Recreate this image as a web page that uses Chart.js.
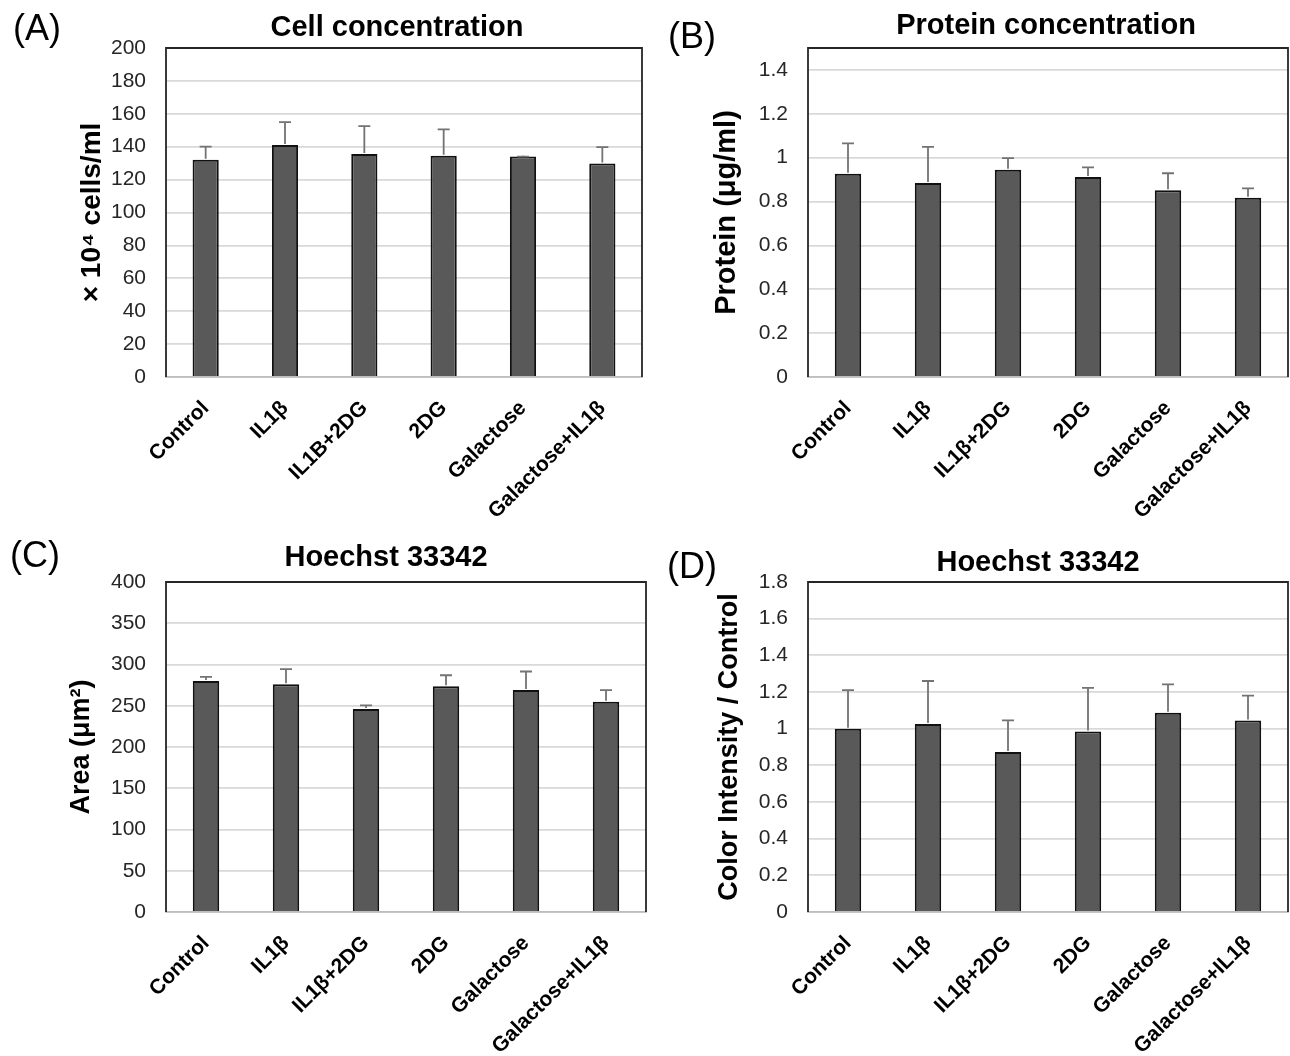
<!DOCTYPE html>
<html><head><meta charset="utf-8">
<script src="https://cdn.jsdelivr.net/npm/chart.js@4.4.1/dist/chart.umd.min.js"></script>
<style>
html,body{margin:0;padding:0;background:#fff;}
#wrap{position:relative;width:1290px;height:1056px;overflow:hidden;background:#fff;}
.p{position:absolute;}
</style></head><body>
<div id="wrap">
  <div class="p" style="left:0px;top:0px;width:650px;height:530px"><canvas id="cA"></canvas></div>
  <div class="p" style="left:650px;top:0px;width:640px;height:530px"><canvas id="cB"></canvas></div>
  <div class="p" style="left:0px;top:530px;width:650px;height:526px"><canvas id="cC"></canvas></div>
  <div class="p" style="left:650px;top:530px;width:640px;height:526px"><canvas id="cD"></canvas></div>
</div>
<script>
// ---- data ----
const categoriesA = ["Control", "IL1β", "IL1B+2DG", "2DG", "Galactose", "Galactose+IL1β"];
const categoriesBCD = ["Control", "IL1β", "IL1β+2DG", "2DG", "Galactose", "Galactose+IL1β"];

const cellConc    = [132, 141, 135.5, 134.5, 134, 129.8];
const cellConcErr = [8, 14, 17, 16, 0, 10];

const protein    = [0.927, 0.885, 0.945, 0.912, 0.852, 0.817];
const proteinErr = [0.138, 0.164, 0.053, 0.044, 0.077, 0.043];

const area    = [280, 276, 246, 273.5, 269, 255];
const areaErr = [5, 18.5, 4.5, 13.5, 22.5, 14];

const intensity    = [1.0, 1.025, 0.873, 0.985, 1.087, 1.045];
const intensityErr = [0.21, 0.235, 0.172, 0.237, 0.155, 0.135];

const ticksA = [0, 20, 40, 60, 80, 100, 120, 140, 160, 180, 200];
const ticksB = [0, 0.2, 0.4, 0.6, 0.8, 1, 1.2, 1.4];
const ticksC = [0, 50, 100, 150, 200, 250, 300, 350, 400];
const ticksD = [0, 0.2, 0.4, 0.6, 0.8, 1, 1.2, 1.4, 1.6, 1.8];

// ---- plugins ----
const errorBars = {
  id: 'errorBars',
  afterDatasetsDraw(chart, args, opts) {
    const ctx = chart.ctx, ys = chart.scales.y;
    const ds = chart.data.datasets[0];
    const meta = chart.getDatasetMeta(0);
    ctx.save();
    ctx.strokeStyle = opts.color; ctx.lineWidth = opts.width;
    meta.data.forEach((bar, i) => {
      const v = ds.data[i], e = ds.errors[i];
      const y0 = ys.getPixelForValue(v), y1 = ys.getPixelForValue(v + e);
      ctx.beginPath();
      ctx.moveTo(bar.x, y0 - 1); ctx.lineTo(bar.x, y1);
      ctx.moveTo(bar.x - opts.cap, y1); ctx.lineTo(bar.x + opts.cap, y1);
      ctx.stroke();
    });
    ctx.restore();
  }
};
const frame = {
  id: 'frame',
  afterDraw(chart, args, opts) {
    const {left, right, top, bottom} = chart.chartArea;
    const ctx = chart.ctx;
    ctx.save();
    ctx.strokeStyle = opts.color; ctx.lineWidth = opts.width;
    ctx.beginPath();
    ctx.moveTo(left, bottom); ctx.lineTo(left, top); ctx.lineTo(right, top); ctx.lineTo(right, bottom);
    ctx.stroke();
    ctx.restore();
  }
};
const panelText = {
  id: 'panelText',
  afterDraw(chart, args, opts) {
    const ctx = chart.ctx;
    ctx.save();
    opts.items.forEach(it => {
      ctx.font = it.font; ctx.fillStyle = it.color || '#000';
      ctx.textAlign = it.align || 'center'; ctx.textBaseline = 'middle';
      ctx.fillText(it.text, it.x, it.y);
    });
    ctx.restore();
  }
};

const FONT = "'Liberation Sans', Arial, sans-serif";

function makeChart(id, cfg) {
  return new Chart(document.getElementById(id), {
    type: 'bar',
    data: {
      labels: cfg.labels,
      datasets: [{
        data: cfg.values,
        errors: cfg.errors,
        backgroundColor: '#595959',
        borderColor: '#111',
        borderWidth: 2,
        barPercentage: 0.33,
        categoryPercentage: 1.0
      }]
    },
    options: {
      responsive: true,
      maintainAspectRatio: false,
      animation: false,
      layout: { padding: { left: 0, top: cfg.padTop, right: cfg.padRight, bottom: 0 } },
      plugins: {
        legend: { display: false },
        tooltip: { enabled: false },
        title: { display: false },
        errorBars: { color: '#737373', width: 1.8, cap: 6 },
        frame: { color: '#262626', width: 1.8 },
        panelText: { items: cfg.texts }
      },
      scales: {
        x: {
          grid: { display: false, drawTicks: false },
          border: { display: true, color: '#bdbdbd', width: 1.8 },
          ticks: {
            color: '#000', maxRotation: 45, minRotation: 45, autoSkip: false, padding: 19,
            font: { family: FONT, size: 21, weight: 'bold' }
          },
          afterFit(scale) { scale.height = cfg.xHeight; }
        },
        y: {
          min: 0, max: cfg.max,
          grid: { color: '#d9d9d9', lineWidth: 1.8, drawTicks: false },
          border: { display: false },
          afterBuildTicks(scale) { scale.ticks = cfg.ticks.map(v => ({ value: v })); },
          ticks: {
            color: '#262626', padding: 20,
            font: { family: FONT, size: 21 },
            callback: v => String(+(+v).toFixed(2))
          },
          title: {
            display: true, text: cfg.yTitle, color: '#000',
            font: { family: FONT, size: cfg.yTitleSize, weight: 'bold' },
            padding: { top: cfg.yTitlePad, bottom: 0 }
          },
          afterFit(scale) { scale.width = cfg.yWidth; }
        }
      }
    },
    plugins: [errorBars, frame, panelText]
  });
}

makeChart('cA', {
  labels: categoriesA, values: cellConc, errors: cellConcErr, ticks: ticksA, max: 200,
  yTitle: '× 10⁴ cells/ml', yTitleSize: 28, yWidth: 166, yTitlePad: 75, padTop: 48, padRight: 8, xHeight: 153,
  texts: [
    { text: '(A)', x: 37, y: 30, font: "36px " + FONT },
    { text: 'Cell concentration', x: 397, y: 28, font: "bold 29px " + FONT }
  ]
});
makeChart('cB', {
  labels: categoriesBCD, values: protein, errors: proteinErr, ticks: ticksB, max: 1.5,
  yTitle: 'Protein (μg/ml)', yTitleSize: 29, yWidth: 158, yTitlePad: 60, padTop: 48, padRight: 2, xHeight: 153,
  texts: [
    { text: '(B)', x: 42, y: 38, font: "36px " + FONT },
    { text: 'Protein concentration', x: 396, y: 26, font: "bold 29px " + FONT }
  ]
});
makeChart('cC', {
  labels: categoriesBCD, values: area, errors: areaErr, ticks: ticksC, max: 400,
  yTitle: 'Area (μm²)', yTitleSize: 27, yWidth: 166, yTitlePad: 65, padTop: 52, padRight: 4, xHeight: 144,
  texts: [
    { text: '(C)', x: 35, y: 27, font: "36px " + FONT },
    { text: 'Hoechst 33342', x: 386, y: 28, font: "bold 29px " + FONT }
  ]
});
makeChart('cD', {
  labels: categoriesBCD, values: intensity, errors: intensityErr, ticks: ticksD, max: 1.8,
  yTitle: 'Color Intensity / Control', yTitleSize: 27, yWidth: 158, yTitlePad: 63, padTop: 52, padRight: 2, xHeight: 144,
  texts: [
    { text: '(D)', x: 42, y: 38, font: "36px " + FONT },
    { text: 'Hoechst 33342', x: 388, y: 33, font: "bold 29px " + FONT }
  ]
});
</script>
</body></html>
